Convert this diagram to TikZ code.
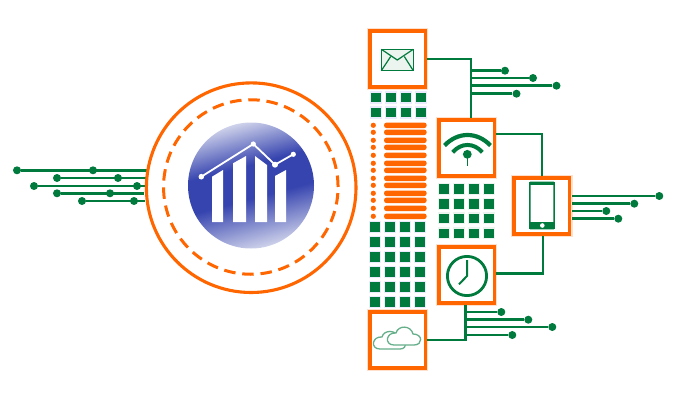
\documentclass[tikz,border=0pt]{standalone}
\usepackage{xcolor}
\usepackage{tikz}

\definecolor{tracegreen}{HTML}{007A3D}
\definecolor{ringorange}{HTML}{FF6600}
\definecolor{diskblue}{HTML}{3644AF}
\definecolor{disklight}{HTML}{CDD1EA}

\pgfdeclareverticalshading{diskshade}{100bp}{color(0bp)=(disklight); color(25bp)=(disklight); color(45bp)=(diskblue); color(58bp)=(diskblue); color(75bp)=(disklight); color(100bp)=(disklight)}

\tikzset{
  trace/.style={draw=tracegreen,line width=2.6pt},
  tracedot/.style={circle,fill=tracegreen,inner sep=0pt,minimum size=8pt},
  iconbox/.style={draw=ringorange,line width=3.6pt,fill=white,minimum size=55.6pt,inner sep=0pt,
    preaction={draw=ringorange!20,line width=6pt}},
  greencell/.style={fill=tracegreen,preaction={draw=#1,line width=2.6pt}},
  iconline/.style={draw=tracegreen,line width=1.5pt},
  barline/.style={draw=white,line width=1.8pt},
  barfill/.style={fill=white},
  cloudline/.style={draw=tracegreen!60,line width=1.3pt,fill=white}
}

\begin{document}
\begin{tikzpicture}[x=1pt,y=-1pt]

  \useasboundingbox (0,0) rectangle (694,402);

  % left traces
  \foreach \name/\xa/\xb/\xe/\y in {la/17/93/147/170.3,lb/57/118/146/178,lc/34/137/146/186,ld/57/110/144/193.3,le/82/134/145/201}
    {
      \node[tracedot] (\name far) at (\xa,\y) {};
      \node[tracedot] (\name mid) at (\xb,\y) {};
      \coordinate (\name end) at (\xe,\y);
      \draw[trace] (\name far) -- (\name end);
    }

  % rings
  \node[circle,draw=ringorange,line width=3.1pt,minimum size=209.6pt,inner sep=0pt] (ringouter) at (251.2,187.7) {};
  \node[circle,draw=ringorange,line width=3pt,dash pattern=on 11.5pt off 6.8pt,minimum size=174.5pt,inner sep=0pt] (ringdash) at (250.8,187) {};

  % disk with the chart
  \shade[shading=diskshade,shading angle=15] (251,185.5) circle (63);
  \fill[barfill] (212,176.7) -- (223,170) -- (223,222) -- (212,222) -- cycle;
  \fill[barfill] (233,163.3) -- (246,156) -- (246,222) -- (233,222) -- cycle;
  \fill[barfill] (255,156) -- (267,165) -- (267,222) -- (255,222) -- cycle;
  \fill[barfill] (275,176) -- (286,170) -- (286,222) -- (275,222) -- cycle;
  \draw[barline] (201.3,176.7) -- (253.3,144) -- (275,164.7) -- (293.3,154.3);
  \foreach \x/\y/\r in {201.3/176.7/2.8,253.3/144/2.6,275/164.7/3,293.3/154.3/2.6}
    \fill[white] (\x,\y) circle (\r);

  % green cells
  \foreach \x in {376,391,406,421}
    \foreach \y in {97.5,112.5}
      {
        \path[greencell=blue!8] (\x-5,\y-4.8) rectangle (\x+5,\y+4.8);
      }
  \foreach \x in {375,390,405,420}
    \foreach \y in {226.7,241.7,256.7,271.7,286.7,301.7}
      {
        \path[greencell=blue!8] (\x-5,\y-4.8) rectangle (\x+5,\y+4.8);
      }
  \foreach \x in {444,459,474,489}
    \foreach \y in {188.7,203.7,218.3,233.3}
      {
        \path[greencell=tracegreen!8] (\x-5,\y-4.8) rectangle (\x+5,\y+4.8);
      }

  % orange strips
  \foreach \y in {125.3,132.3,140.3,147.3,155.3,163.3,170.3,178.3,185.3,193.3,200.3,208.3,216.3}
    {
      \fill[ringorange] (373.3,\y) circle (2.6);
      \fill[ringorange,rounded corners=2.6pt] (384,\y-2.8) rectangle (426.7,\y+2.8);
    }

  % icon boxes
  \node[iconbox] (mailbox) at (397.5,59) {};
  \node[iconbox] (wifibox) at (466.5,148) {};
  \node[iconbox] (phonebox) at (541.7,206) {};
  \node[iconbox] (clockbox) at (466.5,275) {};
  \node[iconbox] (cloudbox) at (397.5,340) {};

  % connectors between the boxes
  \coordinate (mailjoin) at (471,118);
  \coordinate (wifijoin) at (542,176);
  \coordinate (clockjoin) at (543,236);
  \coordinate (cloudjoin) at (465.3,304.7);
  \draw[trace] (mailbox.east) -| (mailjoin);
  \draw[trace] (wifibox.east |- 0,134) -| (wifijoin);
  \draw[trace] (clockbox.east |- 0,273.7) -| (clockjoin);
  \draw[trace] (cloudbox.east) -| (cloudjoin);

  % branches
  \foreach \name/\x/\y in {ma/505/70.7,mb/533/78,mc/556.5/85.7,md/516.5/93.7}
    {
      \node[tracedot] (\name) at (\x,\y) {};
      \draw[trace] (\name) -- (\name -| mailjoin);
    }
  \foreach \name/\x/\y in {ca/501.3/312,cb/528.3/319.7,cc/552.3/327,cd/512.3/335}
    {
      \node[tracedot] (\name) at (\x,\y) {};
      \draw[trace] (\name) -- (\name -| cloudjoin);
    }
  \foreach \name/\x/\y in {pa/659.3/196,pb/634.3/203.7,pc/606.3/211,pd/618.3/218.7}
    {
      \node[tracedot] (\name) at (\x,\y) {};
      \draw[trace] (\name) -- (572,\y);
    }

  % envelope
  \draw[iconline,fill=tracegreen!8] (381.3,49.3) rectangle (413.3,70.7);
  \draw[iconline,line width=1.2pt] (381.3,49.3) -- (397.3,60) -- (413.3,49.3);
  \draw[iconline,line width=1.2pt] (381.3,70.7) -- (390.7,56.5);
  \draw[iconline,line width=1.2pt] (413.3,70.7) -- (404.3,56.5);

  % wifi
  \draw[iconline,line width=4.2pt] (444.5,145.5) .. controls (458,131.5) and (477,131.5) .. (490.5,145.5);
  \draw[iconline,line width=4pt] (452.7,152.3) .. controls (461,142.5) and (474,142.5) .. (482.3,152.3);
  \fill[tracegreen] (467.3,154.3) circle (4.4);
  \draw[iconline,line width=0.8pt] (467.3,154.3) -- (467.3,165.7);

  % phone
  \draw[iconline,line width=1.5pt,fill=white,rounded corners=0.8pt] (529.8,182.4) rectangle (554.2,228.6);
  \fill[tracegreen] (529.3,182) rectangle (554.7,185.3);
  \fill[tracegreen] (529.3,222.3) rectangle (554.7,229);
  \fill[white] (542.3,225.5) circle (2.3);

  % clock
  \draw[iconline,line width=2.8pt] (467,276) circle (19.6);
  \draw[iconline,line width=2pt] (467,260) -- (467,276) -- (459,284.3);

  % clouds
  \draw[cloudline] (380,349) -- (400,349) .. controls (408,349) and (408,338) .. (399,338) .. controls (397,330) and (384,329) .. (382,337) .. controls (372,336) and (370,349) .. (380,349) -- cycle;
  \draw[cloudline] (394,345) -- (414,345) .. controls (423,345) and (423,334) .. (413,334) .. controls (411,325) and (398,325) .. (396,333) .. controls (386,332) and (384,345) .. (394,345) -- cycle;

\end{tikzpicture}
\end{document}
